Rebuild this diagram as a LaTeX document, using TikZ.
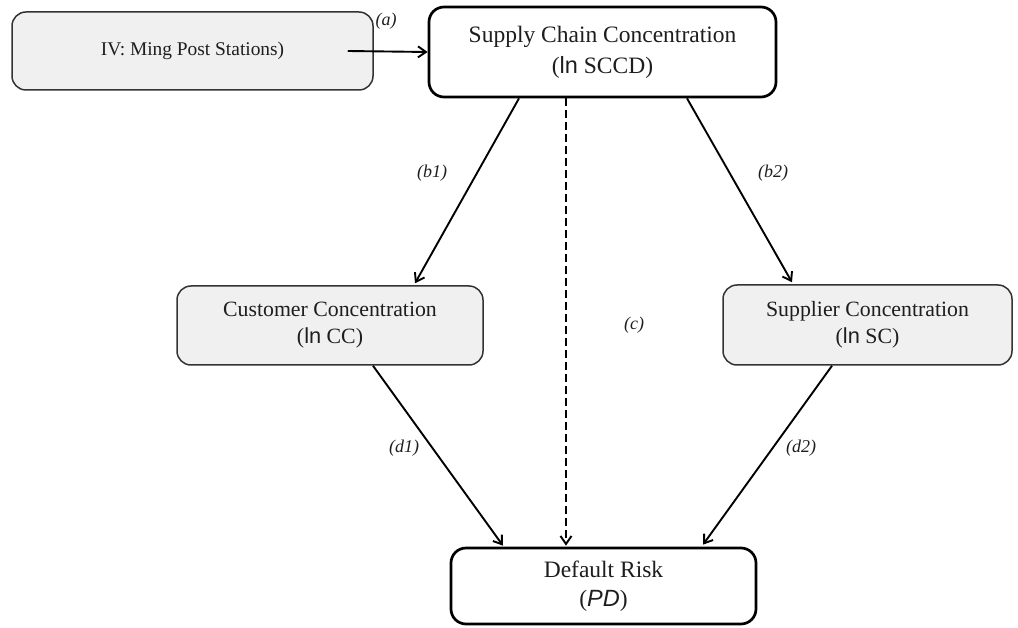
\documentclass[tikz,border=0pt]{standalone}
\usepackage{fontspec}
\setmainfont{Liberation Serif}
\newfontfamily\arialf{Liberation Sans}
\usetikzlibrary{arrows.meta}
\definecolor{boxgray}{HTML}{F0F0F0}
\definecolor{edgegray}{HTML}{333333}
\definecolor{txt}{HTML}{1E1E1E}
\begin{document}
\begin{tikzpicture}[x=1pt,y=-1pt,
  graybox/.style={draw=edgegray,fill=boxgray,line width=1.5pt,rounded corners=14pt,inner sep=0pt,align=center,text=txt},
  mainbox/.style={draw=black,fill=white,line width=2.7pt,rounded corners=15pt,inner sep=0pt,align=center,text=txt},
  conn/.style={line width=1.9pt,-{Straight Barb[length=8pt,width=11pt,line width=1.9pt]}},
  lbl/.style={font=\fontsize{18}{20}\selectfont\itshape,text=txt,inner sep=0pt}]
\useasboundingbox (0,0) rectangle (1018,628);
\node[graybox,minimum width=361pt,minimum height=78pt,font=\fontsize{19.4}{22}\selectfont] (iv) at (192.5,51) {IV: Ming Post Stations)};
\node[mainbox,minimum width=347pt,minimum height=90pt,font=\fontsize{23.5}{31}\selectfont] (sccd) at (602.5,52) {Supply Chain Concentration\\({\arialf ln} SCCD)};
\node[graybox,minimum width=306pt,minimum height=79pt,font=\fontsize{21.8}{27}\selectfont] (cc) at (330,325.5) {Customer Concentration\\({\arialf ln} CC)};
\node[graybox,minimum width=289pt,minimum height=80pt,font=\fontsize{21.8}{27}\selectfont] (sc) at (867.5,325) {Supplier Concentration\\({\arialf ln} SC)};
\node[mainbox,minimum width=305pt,minimum height=76pt,font=\fontsize{23.5}{29}\selectfont] (pd) at (603.5,586) {Default Risk\\({\arialf\itshape PD})};
\draw[conn] ([xshift=-26pt]iv.east) -- (sccd.west);
\draw[conn] ([xshift=-83.5pt]sccd.south) -- ([xshift=85pt,yshift=2pt]cc.north);
\draw[conn] ([xshift=84.5pt]sccd.south) -- ([xshift=-75.5pt,yshift=2pt]sc.north);
\draw[conn,dash pattern=on 8pt off 4pt] ([xshift=-36.5pt]sccd.south) -- ([xshift=-37.5pt,yshift=1pt]pd.north);
\draw[conn] ([xshift=43pt]cc.south) -- ([xshift=-100.5pt,yshift=1pt]pd.north);
\draw[conn] ([xshift=-35.5pt]sc.south) -- ([xshift=99.5pt,yshift=2pt]pd.north);
\node[lbl] (la) at (386,21) {(a)};
\node[lbl] (lb1) at (432,173) {(b1)};
\node[lbl] (lb2) at (773,173) {(b2)};
\node[lbl] (lc) at (634,325) {(c)};
\node[lbl] (ld1) at (404,448) {(d1)};
\node[lbl] (ld2) at (801,448) {(d2)};
\end{tikzpicture}
\end{document}
